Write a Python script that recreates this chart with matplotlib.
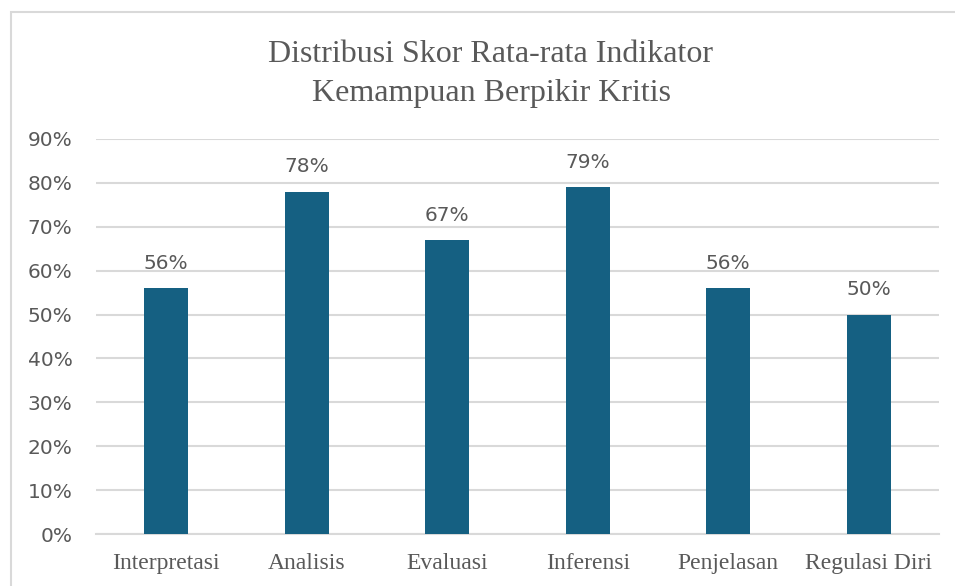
import matplotlib
matplotlib.use("Agg")
import matplotlib.pyplot as plt
from matplotlib.patches import Rectangle
from matplotlib.ticker import PercentFormatter, MultipleLocator

categories = ["Interpretasi", "Analisis", "Evaluasi", "Inferensi", "Penjelasan", "Regulasi Diri"]
values = [56, 78, 67, 79, 56, 50]
title = "Distribusi Skor Rata-rata Indikator\nKemampuan Berpikir Kritis"

bar_color = "#156082"
text_color = "#595959"
grid_color = "#D9D9D9"

fig = plt.figure(figsize=(9.55, 5.86), dpi=100)
fig.patch.set_facecolor("white")

# outer chart border (extends beyond right/bottom edges)
fig.patches.append(Rectangle((11 / 955, -0.05), 1.1, 0.05 + (1 - 12 / 586),
                             transform=fig.transFigure, fill=False,
                             edgecolor=grid_color, linewidth=1.5, zorder=0))

ax = fig.add_axes([96 / 955, 1 - 534 / 586, (939 - 96) / 955, (534 - 139) / 586])
x = range(len(categories))
bars = ax.bar(x, values, width=0.313, color=bar_color, zorder=3)

ax.set_ylim(0, 90)
ax.set_xlim(-0.5, len(categories) - 0.5)
ax.yaxis.set_major_locator(MultipleLocator(10))
ax.yaxis.set_major_formatter(PercentFormatter(decimals=0))
ax.grid(axis="y", color=grid_color, linewidth=1.5, zorder=0)
ax.set_axisbelow(True)
for s in ["top", "right", "left"]:
    ax.spines[s].set_visible(False)
ax.spines["bottom"].set_color(grid_color)
ax.spines["bottom"].set_linewidth(1.5)

ax.set_xticks(list(x))
ax.set_xticklabels(categories, fontfamily="Liberation Serif", fontsize=17, color=text_color)
ax.tick_params(axis="x", length=0, pad=14)
ax.tick_params(axis="y", length=0, pad=17, labelsize=14.5, labelcolor=text_color)
for lbl in ax.get_yticklabels():
    lbl.set_fontfamily("DejaVu Sans")

for xi, v in zip(x, values):
    ax.annotate(f"{v}%", (xi, v), xytext=(0, 11), textcoords="offset points",
                ha="center", va="bottom", fontsize=14.5, color=text_color,
                fontfamily="DejaVu Sans")

fig.text(491 / 955, 1 - 74 / 586, title, ha="center", va="center",
         fontfamily="Liberation Serif", fontsize=23, color=text_color, linespacing=1.42)

fig.savefig("out.png", dpi=100, facecolor="white")
